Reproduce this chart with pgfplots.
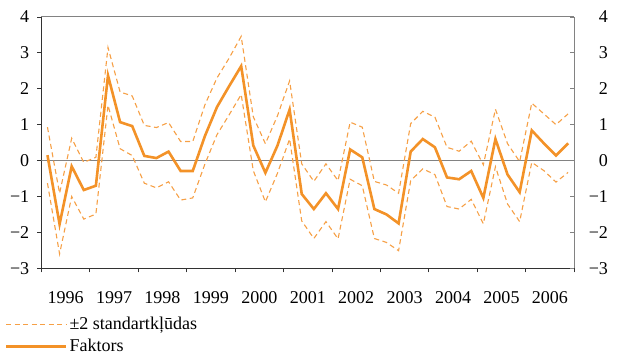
\documentclass[border=0pt]{standalone}
\usepackage{pgfplots}
\pgfplotsset{compat=1.18}
\usepackage{pgfplotstable}
\usepackage{fontspec}
\setmainfont{Liberation Serif}
\definecolor{mainor}{RGB}{243,146,40}
\definecolor{dashor}{RGB}{246,160,70}
\definecolor{axdark}{RGB}{50,50,50}
\definecolor{axgray}{RGB}{130,130,130}

\pgfplotstableread{
x upper main lower
0.5 0.93 0.15 -0.63
1.5 -0.91 -1.77 -2.60
2.5 0.62 -0.16 -1.00
3.5 -0.05 -0.82 -1.63
4.5 0.09 -0.70 -1.49
5.5 3.15 2.37 1.54
6.5 1.91 1.07 0.33
7.5 1.80 0.96 0.14
8.5 0.98 0.13 -0.63
9.5 0.92 0.07 -0.76
10.5 1.06 0.25 -0.59
11.5 0.53 -0.29 -1.10
12.5 0.53 -0.29 -1.04
13.5 1.55 0.68 -0.10
14.5 2.30 1.49 0.72
15.5 2.85 2.07 1.27
16.5 3.46 2.63 1.84
17.5 1.22 0.42 -0.28
18.5 0.47 -0.34 -1.15
19.5 1.25 0.42 -0.35
20.5 2.22 1.42 0.60
21.5 -0.09 -0.93 -1.68
22.5 -0.58 -1.35 -2.17
23.5 -0.09 -0.91 -1.70
24.5 -0.56 -1.35 -2.18
25.5 1.07 0.31 -0.52
26.5 0.93 0.09 -0.70
27.5 -0.58 -1.35 -2.17
28.5 -0.68 -1.50 -2.28
29.5 -0.91 -1.75 -2.51
30.5 1.03 0.25 -0.56
31.5 1.37 0.60 -0.23
32.5 1.21 0.37 -0.39
33.5 0.37 -0.47 -1.28
34.5 0.26 -0.52 -1.35
35.5 0.54 -0.29 -1.08
36.5 -0.12 -1.04 -1.76
37.5 1.43 0.60 -0.17
38.5 0.47 -0.39 -1.21
39.5 -0.03 -0.88 -1.70
40.5 1.60 0.84 -0.05
41.5 1.30 0.48 -0.28
42.5 1.00 0.14 -0.60
43.5 1.30 0.48 -0.33
}\datatable

\begin{document}
\fontsize{18bp}{21bp}\selectfont
\begin{tikzpicture}
\pgfplotsset{
  common/.style={
    scale only axis, width=532bp, height=251bp,
    xmin=0, xmax=44, ymin=-3, ymax=4,
    ytick={-3,-2,-1,0,1,2,3,4},
    yticklabels={−3,−2,−1,0,1,2,3,4},
    major tick length=4bp,
    ticklabel style={font=\fontsize{18bp}{21bp}\selectfont},
  }
}
\begin{axis}[common,
  axis x line*=bottom, axis y line*=left,
  axis line style={axdark, line width=0.8bp},
  tick style={axdark, line width=0.8bp},
  tick align=outside,
  xtick={0,4,...,44},
  xticklabels={1996,1997,1998,1999,2000,2001,2002,2003,2004,2005,2006},
  x tick label as interval,
  xticklabel style={yshift=-13bp},
  yticklabel style={xshift=-2bp},
  legend style={at={(-0.069,-0.185)}, anchor=north west, draw=none, fill=none,
    font=\fontsize{18bp}{21bp}\selectfont, inner sep=0pt, row sep=3bp,
    /tikz/every even column/.append style={column sep=7bp}},
  legend cell align=left,
  legend image code/.code={\draw[#1] (0bp,0bp) -- (60bp,0bp);},
]
\addplot[axgray, line width=1.2bp, forget plot] coordinates {(0,0) (44,0)};
\addplot[dashor, line width=1.1bp, dash pattern=on 5bp off 3.5bp] table[x=x, y=upper] {\datatable};
\addlegendentry{±2 standartkļūdas}
\addplot[dashor, line width=1.1bp, dash pattern=on 5bp off 3.5bp, forget plot] table[x=x, y=lower] {\datatable};
\addplot[mainor, line width=2.6bp] table[x=x, y=main] {\datatable};
\addlegendentry{Faktors}
\end{axis}
\begin{axis}[common,
  axis x line*=top, axis y line*=right,
  axis line style={axgray, line width=0.9bp},
  tick style={axgray, line width=0.8bp},
  tick align=inside,
  xtick=\empty,
  yticklabel style={anchor=east, xshift=40bp},
]
\addplot[draw=none, forget plot] coordinates {(0,0)};
\end{axis}
\path (current bounding box.south west) ++(-4bp,0pt);
\path (current bounding box.north east) ++(3bp,5bp);
\end{tikzpicture}
\end{document}
